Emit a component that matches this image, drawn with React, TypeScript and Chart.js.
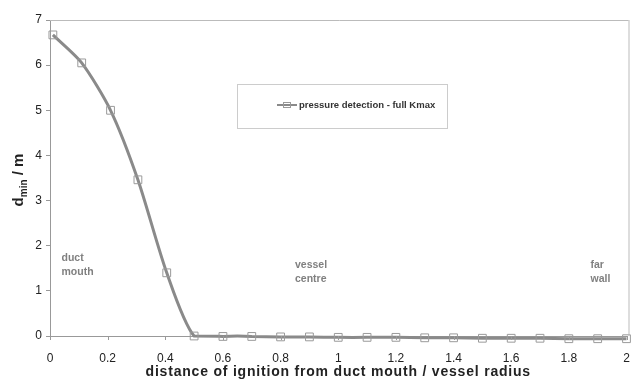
import React, { useEffect, useRef } from "react";
import { Chart, registerables } from "chart.js";

Chart.register(...registerables);

const xValues = [0.01, 0.11, 0.21, 0.305, 0.405, 0.5, 0.6, 0.7, 0.8, 0.9, 1.0, 1.1, 1.2, 1.3, 1.4, 1.5, 1.6, 1.7, 1.8, 1.9, 2.0];
const dmin = [6.67, 6.05, 5.0, 3.46, 1.4, 0.0, -0.01, -0.01, -0.02, -0.02, -0.03, -0.03, -0.03, -0.04, -0.04, -0.05, -0.05, -0.05, -0.06, -0.06, -0.06];
const seriesLabel = "pressure detection - full Kmax";
const xTitle = "distance of ignition from duct mouth / vessel radius";
const annotations = [
  { x: 0.04, y: 1.73, lines: ["duct", "mouth"] },
  { x: 0.85, y: 1.57, lines: ["vessel", "centre"] },
  { x: 1.875, y: 1.57, lines: ["far", "wall"] },
];

const decor = {
  id: "decor",
  afterDraw(chart: any) {
    const { ctx, chartArea: a, scales } = chart;
    ctx.save();
    ctx.strokeStyle = "#bbbbbb";
    ctx.lineWidth = 1;
    ctx.beginPath();
    ctx.moveTo(a.left, a.top + 0.5);
    ctx.lineTo(a.right + 2, a.top + 0.5);
    ctx.moveTo(a.right + 2.5, a.top);
    ctx.lineTo(a.right + 2.5, a.bottom);
    ctx.stroke();

    ctx.strokeStyle = "#999999";
    ctx.beginPath();
    scales.x.ticks.forEach((t: any) => {
      const px = Math.round(scales.x.getPixelForValue(t.value)) + 0.5;
      ctx.moveTo(px, a.bottom);
      ctx.lineTo(px, a.bottom + 4);
    });
    ctx.stroke();

    ctx.fillStyle = "#808080";
    ctx.font = "bold 10.5px 'Liberation Sans', Arial, sans-serif";
    ctx.textBaseline = "middle";
    ctx.textAlign = "left";
    annotations.forEach((an) => {
      const px = scales.x.getPixelForValue(an.x);
      const py = scales.y.getPixelForValue(an.y);
      an.lines.forEach((t, i) => ctx.fillText(t, px, py + i * 14));
    });

    ctx.strokeStyle = "#cccccc";
    ctx.strokeRect(237.5, 84.5, 210, 44);
    ctx.strokeStyle = "#8a8a8a";
    ctx.lineWidth = 2;
    ctx.beginPath();
    ctx.moveTo(277, 105);
    ctx.lineTo(297, 105);
    ctx.stroke();
    ctx.lineWidth = 1;
    ctx.strokeStyle = "#999999";
    ctx.strokeRect(283.5, 102.5, 7, 5);
    ctx.fillStyle = "#333333";
    ctx.font = "bold 9.5px 'Liberation Sans', Arial, sans-serif";
    ctx.fillText(seriesLabel, 299, 105);

    ctx.fillStyle = "#222222";
    ctx.font = "bold 14px 'Liberation Sans', Arial, sans-serif";
    (ctx as any).letterSpacing = "0.8px";
    ctx.textAlign = "center";
    ctx.textBaseline = "middle";
    ctx.fillText(xTitle, (a.left + a.right) / 2, 372);
    (ctx as any).letterSpacing = "0px";

    ctx.translate(19, 180);
    ctx.rotate(-Math.PI / 2);
    const big = "bold 15px 'Liberation Sans', Arial, sans-serif";
    const small = "bold 10px 'Liberation Sans', Arial, sans-serif";
    ctx.font = big;
    const w1 = ctx.measureText("d").width;
    const w3 = ctx.measureText(" / m").width;
    ctx.font = small;
    const w2 = ctx.measureText("min").width;
    const x0 = -(w1 + w2 + w3) / 2;
    ctx.textAlign = "left";
    ctx.font = big;
    ctx.fillText("d", x0, 0);
    ctx.font = small;
    ctx.fillText("min", x0 + w1, 5);
    ctx.font = big;
    ctx.fillText(" / m", x0 + w1 + w2, 0);
    ctx.restore();
  },
};

export default function App() {
  const ref = useRef<HTMLCanvasElement>(null);
  useEffect(() => {
    document.body.style.margin = "0";
    const chart = new Chart(ref.current!, {
      type: "line",
      data: {
        datasets: [
          {
            label: seriesLabel,
            data: xValues.map((x, i) => ({ x, y: dmin[i] })),
            borderColor: "#8a8a8a",
            borderWidth: 3,
            tension: 0.25,
            pointStyle: "rect",
            pointRadius: 5.5,
            pointBorderWidth: 1,
            pointBorderColor: "#9a9a9a",
            pointBackgroundColor: "rgba(0,0,0,0)",
            clip: false as any,
          },
        ],
      },
      options: {
        animation: false,
        responsive: false,
        layout: { padding: { left: 0, top: 20, right: 5, bottom: 0 } },
        plugins: { legend: { display: false }, tooltip: { enabled: false } },
        scales: {
          x: {
            type: "linear",
            min: 0,
            max: 2,
            ticks: {
              stepSize: 0.2,
              color: "#222",
              font: { family: "'Liberation Sans', Arial, sans-serif", size: 12 },
              padding: 2,
              maxRotation: 0,
              callback: (v: any) => String(Math.round(Number(v) * 10) / 10),
            },
            grid: { drawOnChartArea: false, drawTicks: true, tickLength: 13, tickColor: "rgba(0,0,0,0)" },
            border: { color: "#999", width: 1 },
            afterFit: (s: any) => { s.height = 47; },
          },
          y: {
            min: 0,
            max: 7,
            ticks: {
              stepSize: 1,
              color: "#222",
              font: { family: "'Liberation Sans', Arial, sans-serif", size: 12 },
              padding: 4,
            },
            grid: { drawOnChartArea: false, drawTicks: true, tickLength: 4, color: "#999" },
            border: { color: "#999", width: 1 },
            afterFit: (s: any) => { s.width = 50; },
          },
        },
      },
      plugins: [decor],
    });
    return () => chart.destroy();
  }, []);
  return <canvas ref={ref} width={633} height={383} style={{ display: "block" }} />;
}
